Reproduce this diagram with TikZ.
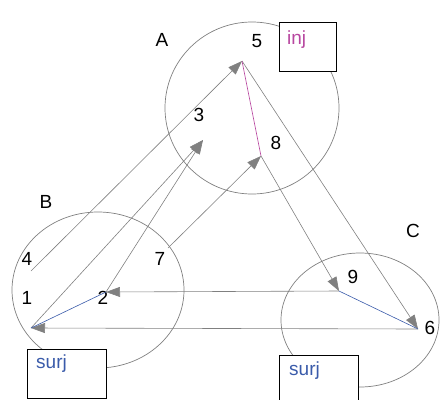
\documentclass[tikz,border=0pt]{standalone}
\usepackage{fontspec}
\setmainfont{Liberation Sans}
\usepackage{xcolor}
\usepackage{tikz}
\usetikzlibrary{positioning, arrows.meta, calc}
\definecolor{linegray}{HTML}{808080}
\definecolor{injpink}{HTML}{B847A0}
\definecolor{surjblue}{HTML}{3A5BAA}

\begin{document}
\begin{tikzpicture}[x=1pt, y=-1pt,
    setring/.style={draw=linegray, line width=0.7pt},
    maplabel/.style={draw=black, fill=white, line width=0.9pt, minimum width=57pt, minimum height=49pt},
    mapline/.style={draw=linegray, line width=0.6pt, -{Triangle[length=14pt, width=10pt, fill=linegray]}},
    elemtext/.style={font=\fontsize{19}{22}\selectfont, inner sep=0pt}]
    \useasboundingbox (0,0) rectangle (441,399);
    % the three sets
    \draw[setring] (252,108) ellipse [x radius=87, y radius=86];
    \draw[setring] (98,290) ellipse [x radius=86, y radius=78];
    \draw[setring] (360,320) ellipse [x radius=79, y radius=67];
    % points
    \coordinate (p5) at (242,61);
    \coordinate (p3) at (203,140);
    \coordinate (p8) at (261,156);
    \coordinate (p4) at (31,271);
    \coordinate (p1) at (31,328);
    \coordinate (p2) at (106,292);
    \coordinate (p7) at (168,248);
    \coordinate (p9) at (339,291);
    \coordinate (p6) at (418,329);
    % labels
    \node[elemtext] (setA) at (162,40) {A};
    \node[elemtext] (setB) at (46,202) {B};
    \node[elemtext] (setC) at (413,231) {C};
    \node[elemtext] (n5) at (257,41) {5};
    \node[elemtext] (n3) at (199,115) {3};
    \node[elemtext] (n8) at (276,143) {8};
    \node[elemtext] (n4) at (27,259) {4};
    \node[elemtext] (n1) at (27,298) {1};
    \node[elemtext] (n2) at (103,298) {2};
    \node[elemtext] (n7) at (160,259) {7};
    \node[elemtext] (n9) at (353,277) {9};
    \node[elemtext] (n6) at (430,328) {6};
    % mappings
    \draw[mapline] (p4) -- (p5);
    \draw[mapline] (p1) -- (p3);
    \draw[mapline] (p2) -- (p3);
    \draw[mapline] (p7) -- (p8);
    \draw[mapline] (p5) -- (p6);
    \draw[mapline] (p8) -- (p9);
    \draw[mapline] (p9) -- (p2);
    \draw[mapline] (p6) -- (p1);
    \draw[injpink, line width=0.6pt] (p5) -- (p8);
    \draw[surjblue, line width=0.6pt] (p1) -- (p2);
    \draw[surjblue, line width=0.6pt] (p9) -- (p6);
    % boxes
    \node[maplabel, anchor=north west] (injbox) at (279,22) {};
    \node[elemtext, text=injpink, anchor=north west] (injtext) at ([xshift=8pt, yshift=-9pt]injbox.north west) {inj};
    \node[maplabel, anchor=north west, minimum width=79pt] (surjB) at (27,349) {};
    \node[elemtext, text=surjblue, anchor=north west] (surjBtext) at ([xshift=9pt, yshift=-6pt]surjB.north west) {surj};
    \node[maplabel, anchor=north west, minimum width=79pt] (surjC) at (279,355) {};
    \node[elemtext, text=surjblue, anchor=north west] (surjCtext) at ([xshift=10pt, yshift=-7pt]surjC.north west) {surj};
\end{tikzpicture}
\end{document}
